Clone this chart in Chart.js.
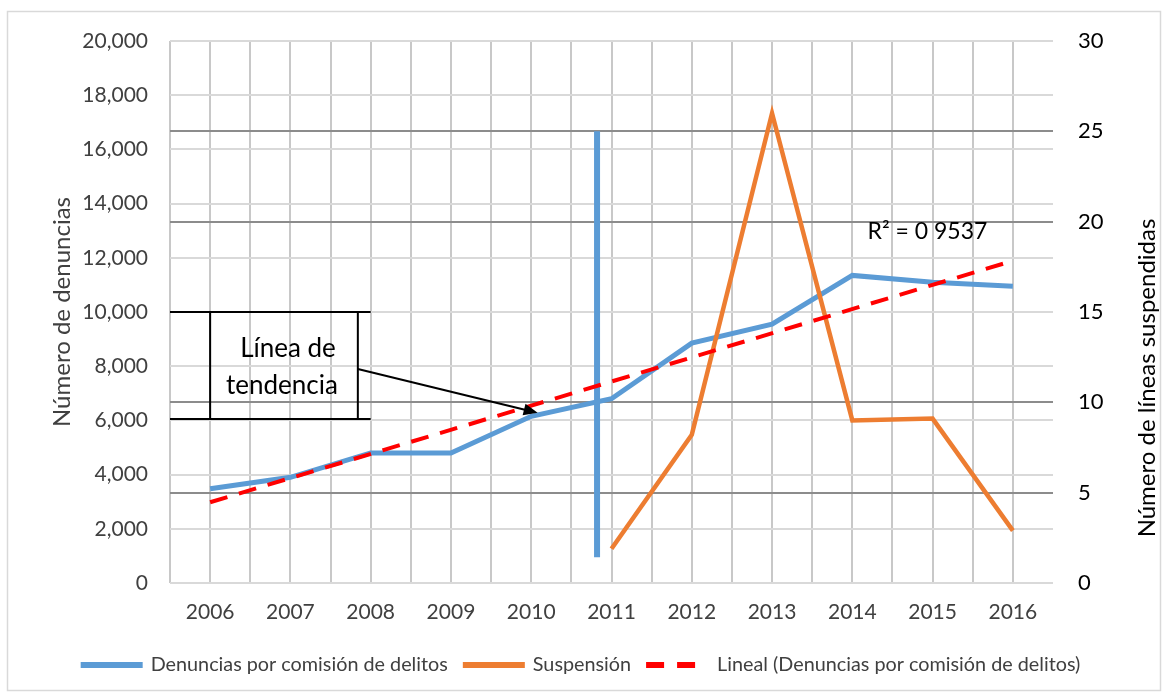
<!DOCTYPE html>
<html>
<head>
<meta charset="utf-8">
<script src="https://cdn.jsdelivr.net/npm/chart.js@4.4.1/dist/chart.umd.min.js"></script>
<style>
  html, body { margin: 0; padding: 0; background: #fff; }
</style>
</head>
<body>
<canvas id="chart" width="1166" height="695"></canvas>
<script>
// data
const years = [2006, 2007, 2008, 2009, 2010, 2011, 2012, 2013, 2014, 2015, 2016];
const denuncias = [3480, 3900, 4800, 4800, 6150, 6800, 8850, 9550, 11350, 11100, 10950];
const suspension = [null, null, null, null, null, 1.9, 8.2, 26, 9, 9.1, 2.9];
const trendYears = [2006, 2016];
const trendValues = [2980, 11890];
// stray vertical blue stroke in the original figure
const strokeYears = [2010.82, 2010.82];
const strokeValues = [16667, 950];
const leftTicks = { min: 0, max: 20000, step: 2000 };
const rightTicks = { min: 0, max: 30, step: 5 };
const rSquared = 'R² = 0 9537';

const FONT = 'Lato, "Open Sans", sans-serif';
const BLUE = '#5B9BD5', ORANGE = '#ED7D31', RED = '#FF0000';
const TEXT = '#404040';

const pts = (xs, ys) => xs.map((x, i) => ({ x: x, y: ys[i] }));

// background + outer frame
const frame = {
  id: 'frame',
  beforeDraw(chart) {
    const ctx = chart.ctx;
    ctx.save();
    ctx.fillStyle = '#fff';
    ctx.fillRect(0, 0, chart.width, chart.height);
    ctx.strokeStyle = '#D9D9D9';
    ctx.lineWidth = 1.5;
    ctx.strokeRect(7.5, 11.5, 1153, 679);
    ctx.restore();
  }
};

// axis titles, text box, arrow, R² label
const annotations = {
  id: 'annotations',
  afterDatasetsDraw(chart) {
    const { ctx, scales: { x, y } } = chart;
    const area = chart.chartArea;
    ctx.save();
    ctx.fillStyle = TEXT;
    ctx.font = '24px ' + FONT;
    ctx.textAlign = 'center';
    ctx.textBaseline = 'middle';
    ctx.translate(62, (area.top + area.bottom) / 2);
    ctx.rotate(-Math.PI / 2);
    ctx.fillText('Número de denuncias', 0, 0);
    ctx.restore();

    ctx.save();
    ctx.fillStyle = '#000';
    ctx.font = '24px ' + FONT;
    ctx.textAlign = 'center';
    ctx.textBaseline = 'middle';
    ctx.translate(1147, 378);
    ctx.rotate(-Math.PI / 2);
    ctx.fillText('Número de líneas suspendidas', 0, 0);
    ctx.restore();

    // "Línea de tendencia" box
    ctx.save();
    ctx.strokeStyle = '#000';
    ctx.lineWidth = 2;
    const xl = x.getPixelForValue(2005.5), xa = x.getPixelForValue(2006);
    const xb = x.getPixelForValue(2007.84), xr = x.getPixelForValue(2008);
    const yt = y.getPixelForValue(10000), yb = y.getPixelForValue(6050);
    ctx.beginPath();
    ctx.moveTo(xl, yt); ctx.lineTo(xr, yt);
    ctx.moveTo(xl, yb); ctx.lineTo(xr, yb);
    ctx.moveTo(xa, yt); ctx.lineTo(xa, yb);
    ctx.moveTo(xb, yt); ctx.lineTo(xb, yb);
    ctx.stroke();
    ctx.fillStyle = '#000';
    ctx.font = '26px ' + FONT;
    ctx.textAlign = 'center';
    ctx.textBaseline = 'middle';
    ctx.fillText('Línea de', (xa + xb) / 2 + 4, yt + 37);
    ctx.fillText('tendencia', (xa + xb) / 2 - 2, yt + 74);

    // arrow
    const ax0 = xb, ay0 = y.getPixelForValue(7900);
    const ax1 = x.getPixelForValue(2010.08), ay1 = y.getPixelForValue(6280);
    const ang = Math.atan2(ay1 - ay0, ax1 - ax0);
    ctx.lineWidth = 2;
    ctx.beginPath();
    ctx.moveTo(ax0, ay0);
    ctx.lineTo(ax1 - 10 * Math.cos(ang), ay1 - 10 * Math.sin(ang));
    ctx.stroke();
    ctx.beginPath();
    ctx.moveTo(ax1, ay1);
    ctx.lineTo(ax1 - 14 * Math.cos(ang) + 6 * Math.sin(ang), ay1 - 14 * Math.sin(ang) - 6 * Math.cos(ang));
    ctx.lineTo(ax1 - 14 * Math.cos(ang) - 6 * Math.sin(ang), ay1 - 14 * Math.sin(ang) + 6 * Math.cos(ang));
    ctx.closePath();
    ctx.fill();

    // R² label
    ctx.textAlign = 'left';
    ctx.font = '23px ' + FONT;
    ctx.fillText(rSquared, x.getPixelForValue(2014.19), y.getPixelForValue(12950));
    ctx.restore();
  }
};

// legend drawn by hand so the dashed sample looks right
const legendRow = {
  id: 'legendRow',
  afterDraw(chart) {
    const ctx = chart.ctx;
    const items = [
      { text: 'Denuncias por comisión de delitos', color: BLUE, dash: [], w: 62, gap: 8 },
      { text: 'Suspensión', color: ORANGE, dash: [], w: 62, gap: 8 },
      { text: 'Lineal (Denuncias por comisión de delitos)', color: RED, dash: [18, 13], w: 49, gap: 22 }
    ];
    ctx.save();
    ctx.font = '19.8px ' + FONT;
    let total = 0;
    items.forEach((it, i) => {
      it.tw = ctx.measureText(it.text).width;
      total += it.w + it.gap + it.tw + (i < items.length - 1 ? 15 : 0);
    });
    let cx = 580.5 - total / 2;
    const cy = 665;
    ctx.textBaseline = 'middle';
    ctx.fillStyle = TEXT;
    items.forEach(it => {
      ctx.strokeStyle = it.color;
      ctx.lineWidth = 6;
      ctx.setLineDash(it.dash);
      ctx.beginPath();
      ctx.moveTo(cx, cy); ctx.lineTo(cx + it.w, cy);
      ctx.stroke();
      ctx.setLineDash([]);
      cx += it.w + it.gap;
      ctx.fillText(it.text, cx, cy);
      cx += it.tw + 15;
    });
    ctx.restore();
  }
};

new Chart(document.getElementById('chart'), {
  type: 'line',
  data: {
    datasets: [
      {
        label: 'Lineal (Denuncias por comisión de delitos)',
        data: pts(trendYears, trendValues),
        borderColor: RED, borderWidth: 4, borderDash: [18, 12],
        pointRadius: 0, yAxisID: 'y', order: 0
      },
      {
        label: 'Suspensión',
        data: pts(years, suspension),
        borderColor: ORANGE, borderWidth: 4.5,
        pointRadius: 0, yAxisID: 'y1', order: 1
      },
      {
        label: 'Denuncias por comisión de delitos',
        data: pts(years, denuncias),
        borderColor: BLUE, borderWidth: 5,
        pointRadius: 0, yAxisID: 'y', order: 2
      },
      {
        label: 'stroke',
        data: pts(strokeYears, strokeValues),
        borderColor: BLUE, borderWidth: 6, borderCapStyle: 'butt',
        pointRadius: 0, yAxisID: 'y', order: 3
      }
    ]
  },
  options: {
    responsive: false,
    animation: false,
    devicePixelRatio: 1,
    layout: { padding: { top: 41, left: 0, right: 0, bottom: 0 } },
    plugins: { legend: { display: false }, tooltip: { enabled: false } },
    scales: {
      x: {
        type: 'linear',
        min: 2005.5, max: 2016.5,
        afterFit: s => { s.height = 112; },
        border: { display: false },
        grid: {
          drawTicks: false, lineWidth: 2,
          color: c => (c.tick && c.tick.value > 2016.4) ? 'rgba(0,0,0,0)' : '#C8C8C8'
        },
        ticks: {
          stepSize: 0.5, autoSkip: false, maxRotation: 0, padding: 17,
          color: TEXT, font: { family: FONT, size: 21 },
          callback: v => Number.isInteger(v) ? String(v) : ''
        }
      },
      y: {
        position: 'left',
        min: leftTicks.min, max: leftTicks.max,
        afterFit: s => { s.width = 170; },
        border: { display: false },
        grid: { drawTicks: false, lineWidth: 2, color: '#D9D9D9' },
        ticks: {
          stepSize: leftTicks.step, padding: 22,
          color: TEXT, font: { family: FONT, size: 21 },
          callback: v => v.toLocaleString('en-US')
        }
      },
      y1: {
        position: 'right',
        min: rightTicks.min, max: rightTicks.max,
        afterFit: s => { s.width = 113; },
        border: { display: false },
        grid: {
          drawTicks: false, lineWidth: 2,
          color: c => [0, 15, 30].includes(c.tick && c.tick.value) ? 'rgba(0,0,0,0)' : '#8C8C8C'
        },
        ticks: {
          stepSize: rightTicks.step, padding: 25,
          color: '#000', font: { family: FONT, size: 22 }
        }
      }
    }
  },
  plugins: [frame, annotations, legendRow]
});
</script>
</body>
</html>
